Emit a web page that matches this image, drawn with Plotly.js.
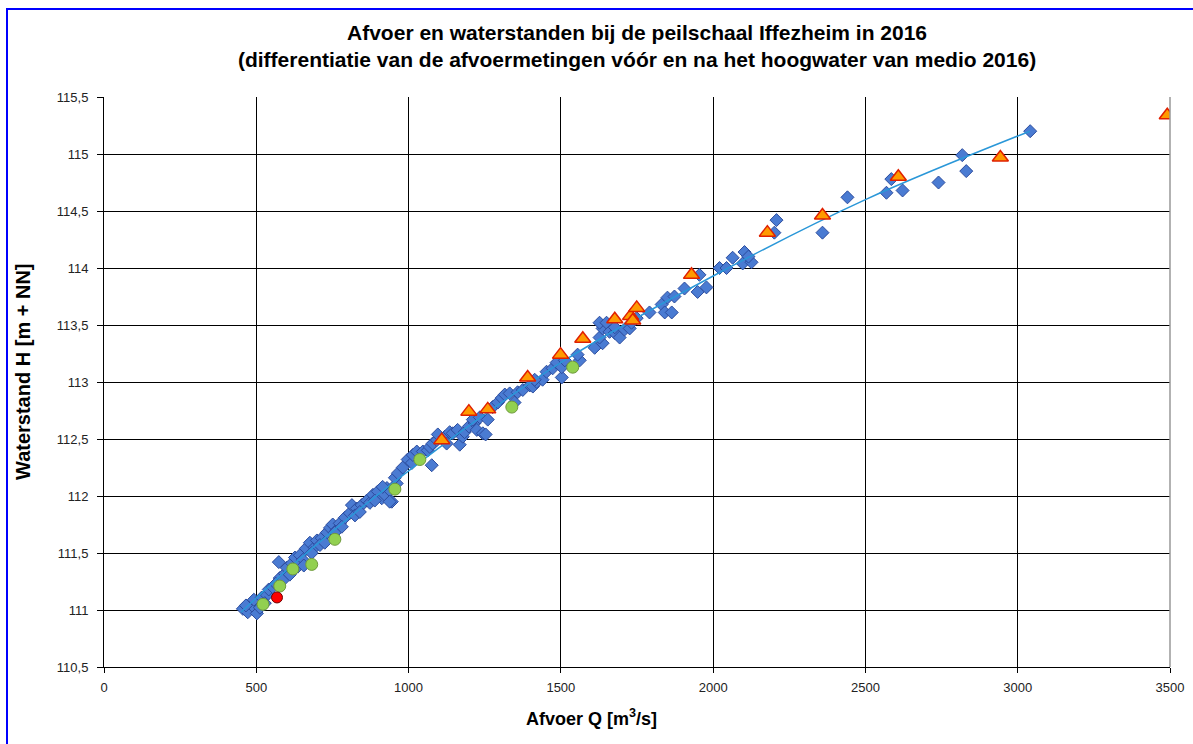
<!DOCTYPE html>
<html>
<head>
<meta charset="utf-8">
<script src="https://cdn.plot.ly/plotly-3.0.1.min.js"></script>
<style>
  html, body { margin:0; padding:0; background:#fff; }
  #chart { width:1193px; height:744px; }
  #frame { position:absolute; left:6px; top:8px; width:1300px; height:900px;
           border-left:2px solid #0000ff; border-top:2px solid #0000ff; pointer-events:none; }
</style>
</head>
<body>
<div id="chart"></div>
<div id="frame"></div>
<script>
// Blue diamonds: discharge measurements (Q m3/s, H m + NN)
const diamondQ = [456,472,502,486,492,518,535,541,554,574,577,594,600,617,627,643,653,663,676,692,699,715,732,742,751,764,774,791,807,814,830,846,863,873,883,899,912,929,945,961,
  466,512,528,564,587,610,636,656,682,709,725,758,781,824,840,889,922,938,
  915,938,955,965,981,997,1011,1014,1027,1047,1063,1076,1070,1079,1093,1096,1119,1125,1135,1145,1161,1168,1178,1184,1198,1217,1211,1224,1234,1244,1253,1260,1276,1293,1306,1316,1332,1348,1358,1375,1398,1408,1421,1440,1414,1453,1473,1486,
  1503,1503,1513,1562,1555,1611,1637,1627,1637,1627,1650,1660,1677,1693,1677,1709,1726,1732,1749,1791,1831,1841,1864,1850,1873,1906,1949,1978,1955,2021,2044,2097,2126,2064,2103,2116,
  2208,2201,2359,2441,2569,2585,2622,2740,2818,2831,3041];
const diamondH = [111.01,110.98,110.97,111.04,111.09,111.11,111.13,111.18,111.20,111.42,111.28,111.32,111.37,111.41,111.46,111.48,111.44,111.54,111.59,111.55,111.61,111.63,111.68,111.72,111.75,111.70,111.76,111.81,111.85,111.92,111.89,111.92,111.96,111.94,112.01,112.04,111.98,112.07,111.95,112.11,
  111.04,111.02,111.06,111.23,111.26,111.31,111.38,111.39,111.50,111.57,111.59,111.68,111.73,111.83,111.86,111.96,112.01,112.05,
  112.08,111.95,112.16,112.20,112.25,112.32,112.29,112.36,112.39,112.39,112.40,112.27,112.43,112.46,112.49,112.54,112.52,112.46,112.56,112.55,112.58,112.45,112.52,112.56,112.61,112.64,112.67,112.58,112.69,112.55,112.54,112.67,112.78,112.82,112.86,112.89,112.90,112.82,112.91,112.93,112.97,112.96,113.00,113.02,113.02,113.09,113.12,113.17,
  113.04,113.13,113.19,113.19,113.24,113.30,113.34,113.39,113.47,113.52,113.52,113.44,113.43,113.39,113.48,113.46,113.47,113.52,113.56,113.61,113.68,113.61,113.61,113.74,113.75,113.82,113.79,113.83,113.94,114.00,114.00,114.04,114.05,114.09,114.14,114.10,
  114.42,114.31,114.31,114.62,114.66,114.78,114.68,114.75,114.99,114.85,115.20];

// Orange triangles: measurements after the 2016 high water
const triangleQ = [1109,1198,1260,1391,1499,1572,1677,1729,1736,1749,1929,2178,2359,2608,2943,3491];
const triangleH = [112.49,112.74,112.76,113.04,113.24,113.38,113.55,113.58,113.54,113.65,113.94,114.31,114.46,114.80,114.97,115.34];

// Green circles: measurements before the high water
const greenQ = [522,577,620,682,758,955,1037,1339,1539];
const greenH = [111.05,111.21,111.36,111.40,111.62,112.06,112.32,112.78,113.13];

// Red circle
const redQ = [568];
const redH = [111.11];

// Trend line
const trendQ = [450,600,800,1000,1200,1500,2000,2500,3040];
const trendH = [110.98,111.35,111.80,112.22,112.62,113.17,113.93,114.60,115.20];

const xTicks = [0,500,1000,1500,2000,2500,3000,3500];
const yTicks = [110.5,111,111.5,112,112.5,113,113.5,114,114.5,115,115.5];

const traces = [
  {x: diamondQ, y: diamondH, type:'scatter', mode:'markers', hoverinfo:'x+y',
   marker:{symbol:'diamond', size:10, color:'#4a7bd2', line:{color:'#2c4c9e', width:1}}},
  {x: trendQ, y: trendH, type:'scatter', mode:'lines',
   line:{color:'#2a97d8', width:1.5, shape:'spline', smoothing:1}},
  {x: triangleQ, y: triangleH, type:'scatter', mode:'markers',
   marker:{symbol:'triangle-up', size:14, color:'#ff9a00', line:{color:'#e02000', width:1.5}}},
  {x: greenQ, y: greenH, type:'scatter', mode:'markers',
   marker:{symbol:'circle', size:12, color:'#92d050', line:{color:'#6f9a3c', width:1}}},
  {x: redQ, y: redH, type:'scatter', mode:'markers',
   marker:{symbol:'circle', size:11, color:'#ff0000', line:{color:'#700000', width:1}}}
];

const layout = {
  width:1193, height:744,
  paper_bgcolor:'#ffffff', plot_bgcolor:'#ffffff',
  separators:',.',
  showlegend:false,
  margin:{l:104, r:23, t:97, b:77},
  font:{family:'Liberation Sans, Arial, sans-serif', color:'#000'},
  title:{text:'<b>Afvoer en waterstanden bij de peilschaal Iffezheim in 2016<br>(differentiatie van de afvoermetingen vóór en na het hoogwater van medio 2016)</b>',
         font:{size:21, color:'#000'}, x:0.534, xanchor:'center', y:1-40/744, yanchor:'top'},
  xaxis:{range:[0,3500], tickvals:xTicks, ticks:'outside', ticklen:5, tickcolor:'#000',
         showgrid:true, gridcolor:'#000', gridwidth:1, zeroline:false,
         showline:true, linecolor:'#000', linewidth:1, mirror:false,
         ticklabelstandoff:3,
         tickfont:{size:13, color:'#222'}},
  yaxis:{range:[110.5,115.5], tickvals:yTicks, ticks:'outside', ticklen:6, tickcolor:'#000',
         showgrid:true, gridcolor:'#000', gridwidth:1, zeroline:false,
         showline:true, linecolor:'#000', linewidth:1,
         ticklabelstandoff:6,
         tickfont:{size:13, color:'#222'}},
  annotations:[
    {text:'<b>Afvoer Q [m<sup>3</sup>/s]</b>', xref:'paper', yref:'paper',
     x:(591-104)/1066, y:-(717-667)/570, xanchor:'center', yanchor:'middle', showarrow:false,
     font:{size:18, color:'#000'}},
    {text:'<b>Waterstand H [m + NN]</b>', xref:'paper', yref:'paper', textangle:-90,
     x:-(104-23)/1066, y:(667-372)/570, xanchor:'center', yanchor:'middle', showarrow:false,
     font:{size:20, color:'#000'}}
  ],
  shapes:[
    {type:'line', xref:'paper', yref:'paper', x0:1, x1:1, y0:0, y1:1, line:{color:'#999', width:1.5}}
  ]
};

Plotly.newPlot('chart', traces, layout, {displayModeBar:false, staticPlot:true});
</script>
</body>
</html>
